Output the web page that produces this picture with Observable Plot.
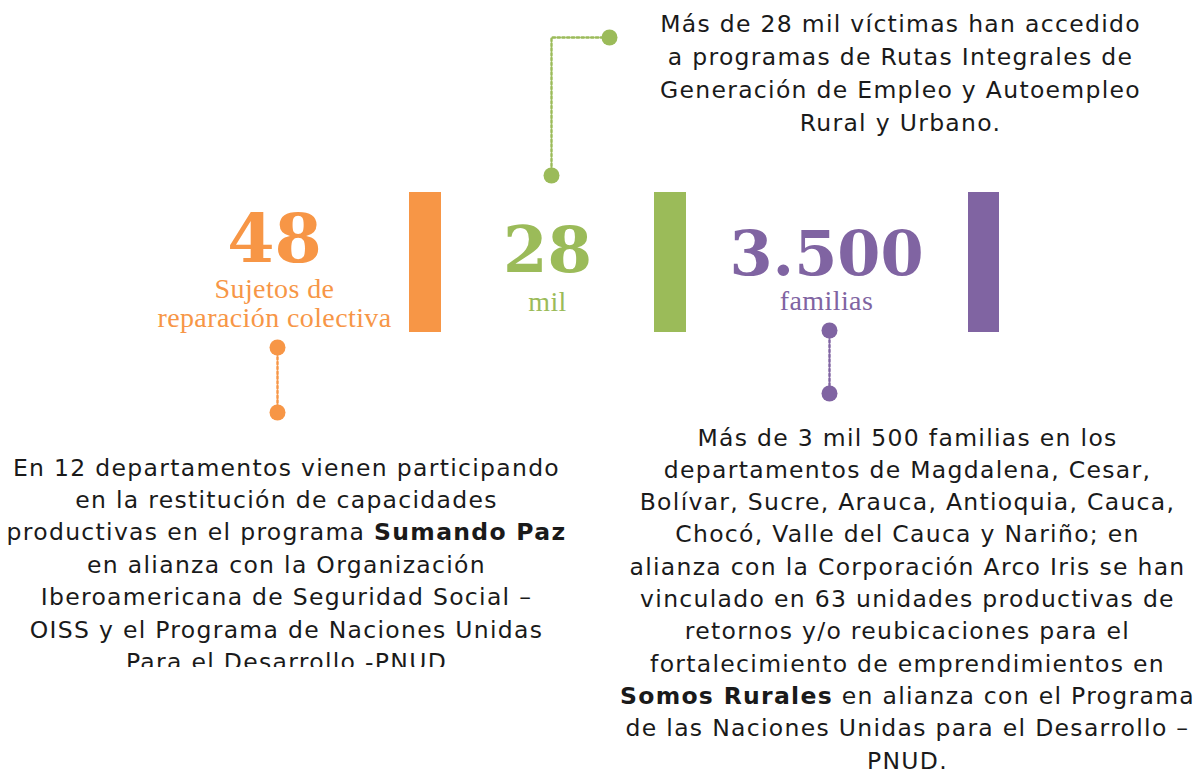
<!DOCTYPE html>
<html>
<head>
<meta charset="utf-8">
<script src="https://cdn.jsdelivr.net/npm/d3@7"></script>
<script src="https://cdn.jsdelivr.net/npm/@observablehq/plot@0.6"></script>
<style>
  html, body { margin: 0; padding: 0; background: #ffffff; }
  #chart svg { display: block; }
</style>
</head>
<body>
<div id="chart"></div>
<script>
// ---- Data (values & texts) ----
const metricValues = ["48", "28", "3.500"];
const metricUnits = [["Sujetos de", "reparación colectiva"], ["mil"], ["familias"]];
const metricColors = ["#F79646", "#9BBB59", "#8064A2"];

const textTop = [
  "Más de 28 mil víctimas han accedido",
  "a programas de Rutas Integrales de",
  "Generación de Empleo y Autoempleo",
  "Rural y Urbano."
];
const textLeft = [
  "En 12 departamentos vienen participando",
  "en la restitución de capacidades",
  "productivas en el programa Sumando Paz",
  "en alianza con la Organización",
  "Iberoamericana de Seguridad Social –",
  "OISS y el Programa de Naciones Unidas",
  "Para el Desarrollo -PNUD"
];
const textRight = [
  "Más de 3 mil 500 familias en los",
  "departamentos de Magdalena, Cesar,",
  "Bolívar, Sucre, Arauca, Antioquia, Cauca,",
  "Chocó, Valle del Cauca y Nariño; en",
  "alianza con la Corporación Arco Iris se han",
  "vinculado en 63 unidades productivas de",
  "retornos y/o reubicaciones para el",
  "fortalecimiento de emprendimientos en",
  "Somos Rurales en alianza con el Programa",
  "de las Naciones Unidas para el Desarrollo –",
  "PNUD."
];
const boldPhrases = ["Sumando Paz", "Somos Rurales"];

// ---- Layout (positions in page pixels) ----
const layout = {
  bars: [
    {x1: 409, x2: 441, y1: 192, y2: 332},
    {x1: 654, x2: 686, y1: 192, y2: 332},
    {x1: 968, x2: 999, y1: 192, y2: 332}
  ],
  numbers: [
    {x: 274, y: 261, size: 68},
    {x: 547, y: 271, size: 64},
    {x: 826, y: 274, size: 62}
  ],
  units: [
    {x: 274, y: 297, step: 29},
    {x: 547, y: 310, step: 29},
    {x: 826, y: 309, step: 29}
  ],
  connectors: [
    [[277, 347], [277, 412]],
    [[551, 175], [551, 37], [609, 37]],
    [[829, 330], [829, 393]]
  ],
  blocks: [
    {lines: textTop, x: 900, y: 31, step: 33},
    {lines: textLeft, x: 286, y: 475, step: 32.4},
    {lines: textRight, x: 907, y: 445, step: 32.3}
  ],
  // the reference's left text box cuts its last line
  clip: {x1: 0, x2: 600, y1: 667, y2: 700}
};

// ---- Build tables ----
const bars = layout.bars.map((b, i) => ({...b, color: metricColors[i]}));
const numbers = metricValues.map((v, i) => ({text: v, color: metricColors[i], ...layout.numbers[i]}));
const units = metricUnits.flatMap((lines, i) =>
  lines.map((t, j) => ({text: t, color: metricColors[i], x: layout.units[i].x, y: layout.units[i].y + j * layout.units[i].step})));
const connectorPts = layout.connectors.flatMap((pts, i) =>
  pts.map(([x, y]) => ({x, y, id: i, color: metricColors[i]})));
const endDots = layout.connectors.flatMap((pts, i) =>
  [pts[0], pts[pts.length - 1]].map(([x, y]) => ({x, y, color: metricColors[i]})));
const bodyLines = layout.blocks.flatMap(b =>
  b.lines.map((t, j) => ({text: t, x: b.x, y: b.y + j * b.step})));

const chart = Plot.plot({
  width: 1199,
  height: 774,
  margin: 0,
  style: {background: "#ffffff"},
  x: {domain: [0, 1199], range: [0, 1199], axis: null},
  y: {domain: [0, 774], range: [0, 774], axis: null},
  marks: [
    Plot.rect(bars, {x1: "x1", x2: "x2", y1: "y1", y2: "y2", fill: "color"}),
    Plot.line(connectorPts, {x: "x", y: "y", z: "id", stroke: "color", strokeWidth: 2.4, strokeDasharray: "2.4,2.4", curve: "linear"}),
    Plot.dot(endDots, {x: "x", y: "y", r: 8, fill: "color", stroke: "none"}),
    ...numbers.map(n => Plot.text([n], {x: "x", y: "y", text: "text", fill: "color", fontSize: n.size, fontWeight: "bold", fontFamily: "DejaVu Serif", lineAnchor: "bottom", textAnchor: "middle"})),
    Plot.text(units, {x: "x", y: "y", text: "text", fill: "color", fontSize: 28, fontFamily: "Liberation Serif", lineAnchor: "bottom", textAnchor: "middle"}),
    Plot.text(bodyLines, {x: "x", y: "y", text: "text", fill: "#1a1a1a", fontSize: 23.5, fontFamily: "DejaVu Sans", lineAnchor: "bottom", textAnchor: "middle"}),
    Plot.rect([layout.clip], {x1: "x1", x2: "x2", y1: "y1", y2: "y2", fill: "#ffffff"})
  ]
});

// Letter spacing to approximate the wide geometric face of the reference
d3.select(chart).selectAll("text").filter(function() {
  return this.closest("g") && this.closest("g").getAttribute("font-family") === "DejaVu Sans";
}).attr("letter-spacing", 1.3);
d3.select(chart).selectAll("g[font-family='Liberation Serif'] text").attr("letter-spacing", 0.4);

// Bold key phrases inside body lines
d3.select(chart).selectAll("text").each(function() {
  const el = d3.select(this);
  const s = el.text();
  const phrase = boldPhrases.find(p => s.includes(p));
  if (!phrase) return;
  const idx = s.indexOf(phrase);
  const parts = [s.slice(0, idx), phrase, s.slice(idx + phrase.length)];
  el.text(null);
  parts.forEach((p, k) => { if (p) el.append("tspan").attr("font-weight", k === 1 ? "bold" : null).text(p); });
});

document.getElementById("chart").appendChild(chart);
</script>
</body>
</html>
